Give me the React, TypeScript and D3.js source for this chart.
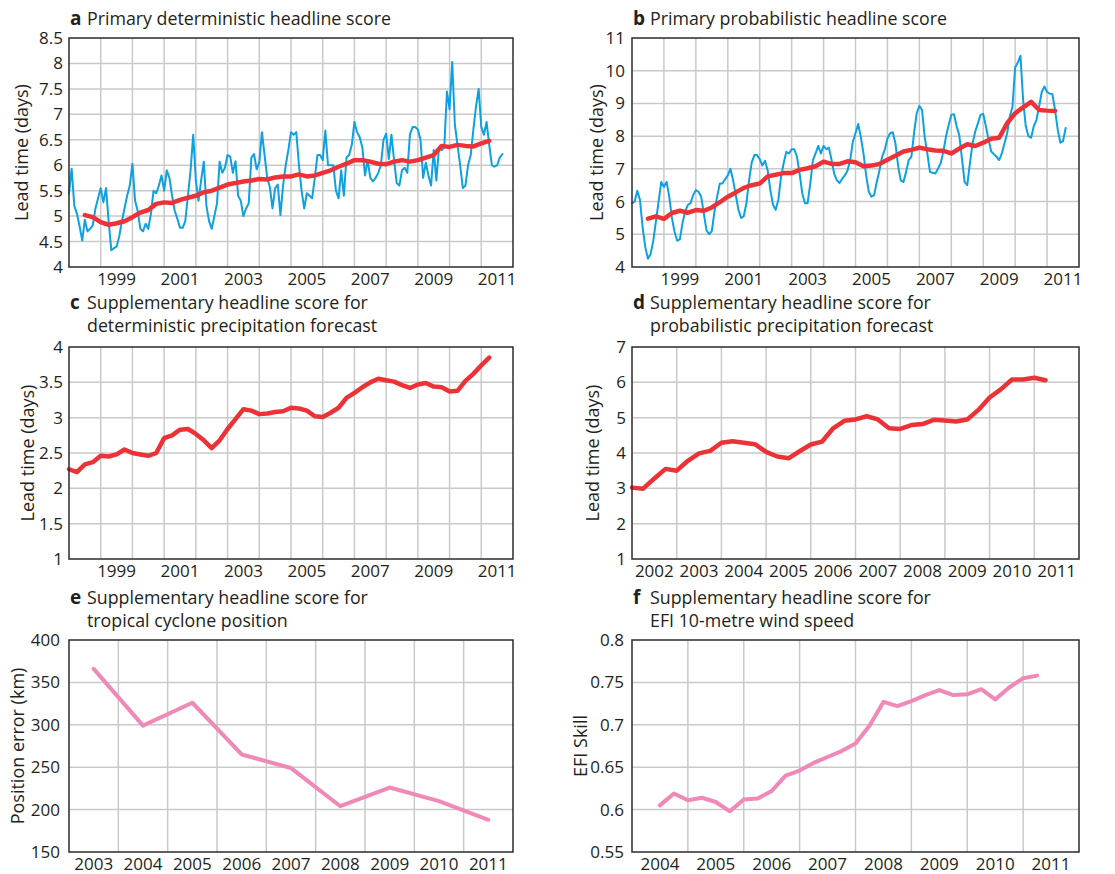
import React from "react";
import * as d3 from "d3";

const FONT = "'Open Sans', sans-serif";
const INK = "#231f20";
const GRID = "#c9c9c9";
const BLUE = "#0ea1e2";
const RED = "#ec3237";
const PINK = "#f088b8";

// a: primary deterministic score, monthly from Jan 1998, plus 12-month mean (quarterly from mid 1998)
const detStart = 1998;
const detMonthly = [
  5.45, 5.93, 5.2, 5.05, 4.8, 4.52, 4.93, 4.7, 4.75, 4.82,
  5.15, 5.35, 5.55, 5.27, 5.55, 4.9, 4.33, 4.37, 4.4, 4.6,
  4.9, 5.15, 5.4, 5.6, 6.03, 5.3, 5.1, 4.75, 4.7, 4.85,
  4.75, 5.05, 5.5, 5.45, 5.6, 5.8, 5.5, 5.9, 5.75, 5.4,
  5.1, 4.95, 4.77, 4.77, 4.9, 5.4, 5.9, 6.6, 5.7, 5.3,
  5.7, 6.07, 5.2, 4.9, 4.75, 5.0, 5.25, 6.07, 5.85, 5.95,
  6.2, 6.17, 5.85, 6.08, 5.4, 5.3, 5.0, 5.15, 5.25, 6.15,
  6.22, 5.92, 6.05, 6.65, 6.2, 5.75, 5.57, 5.15, 5.55, 5.62,
  5.02, 5.6, 6.0, 6.3, 6.65, 6.6, 6.65, 6.0, 5.5, 5.15,
  5.45, 5.4, 5.35, 5.75, 6.2, 6.2, 6.1, 6.68, 6.0, 6.0,
  6.0, 5.5, 5.35, 5.9, 5.4, 6.15, 6.2, 6.4, 6.85, 6.65,
  6.55, 6.35, 5.8, 6.1, 5.75, 5.68, 5.75, 5.85, 6.0, 6.5,
  6.62, 6.12, 6.6, 6.1, 5.65, 5.6, 5.9, 5.95, 5.85, 6.6,
  6.75, 6.75, 6.7, 6.5, 5.75, 6.05, 5.8, 5.6, 6.3, 5.7,
  6.35, 6.3, 6.35, 7.45, 7.1, 8.03, 6.8, 6.4, 6.0, 5.55,
  5.6, 6.0, 6.2, 6.7, 7.15, 7.5, 6.75, 6.6, 6.85, 6.4,
  6.0, 5.97, 6.0, 6.15, 6.22,
];
const detMeanStart = 1998.5;
const detMean = [
  5.02, 4.98, 4.88, 4.83, 4.86, 4.9, 4.98, 5.07, 5.12, 5.24,
  5.27, 5.26, 5.32, 5.36, 5.4, 5.47, 5.5, 5.56, 5.62, 5.65,
  5.68, 5.7, 5.73, 5.72, 5.76, 5.78, 5.78, 5.82, 5.78, 5.8,
  5.85, 5.9, 5.97, 6.03, 6.1, 6.1, 6.07, 6.03, 6.02, 6.07,
  6.1, 6.07, 6.1, 6.15, 6.2, 6.38, 6.36, 6.4, 6.38, 6.37,
  6.43, 6.48,
];

// b: primary probabilistic score
const probStart = 1998;
const probMonthly = [
  5.95, 6.0, 6.33, 6.05, 5.2, 4.6, 4.25, 4.4, 4.8, 5.4,
  6.0, 6.6, 6.45, 6.6, 6.15, 5.5, 5.07, 4.8, 4.85, 5.35,
  5.7, 5.9, 5.95, 6.2, 6.35, 6.3, 6.15, 5.63, 5.12, 5.0,
  5.1, 5.7, 6.15, 6.55, 6.55, 6.68, 6.8, 7.0, 6.65, 6.2,
  5.75, 5.5, 5.55, 5.95, 6.65, 7.2, 7.42, 7.42, 7.3, 7.1,
  7.25, 6.95, 6.35, 5.9, 5.75, 6.05, 6.75, 7.17, 7.52, 7.47,
  7.6, 7.6, 7.37, 6.85, 6.25, 5.95, 5.95, 6.55, 7.27, 7.47,
  7.7, 7.47, 7.7, 7.6, 7.65, 7.27, 6.85, 6.65, 6.57, 6.7,
  6.8, 6.95, 7.27, 7.83, 8.09, 8.37, 7.98, 7.47, 6.8, 6.3,
  6.15, 6.2, 6.6, 6.95, 7.37, 7.58, 7.93, 8.09, 8.12, 7.78,
  7.1, 6.65, 6.6, 6.9, 7.27, 7.37, 8.09, 8.7, 8.93, 8.8,
  7.98, 7.47, 6.9, 6.88, 6.86, 7.0, 7.17, 7.52, 7.98, 8.34,
  8.65, 8.67, 8.3, 8.03, 7.32, 6.6, 6.5, 7.17, 7.78, 8.14,
  8.39, 8.65, 8.68, 8.3, 7.9, 7.53, 7.45, 7.37, 7.27, 7.47,
  7.78, 8.09, 8.6, 8.9, 10.1, 10.25, 10.45, 9.1, 8.3, 8.0,
  7.95, 8.3, 8.5, 8.9, 9.35, 9.52, 9.35, 9.3, 9.28, 8.8,
  8.2, 7.8, 7.85, 8.25,
];
const probMeanStart = 1998.5;
const probMean = [
  5.48, 5.55, 5.47, 5.65, 5.72, 5.66, 5.74, 5.72, 5.82, 5.98,
  6.15, 6.28, 6.42, 6.5, 6.55, 6.77, 6.82, 6.87, 6.87, 6.97,
  7.02, 7.08, 7.22, 7.15, 7.15, 7.23, 7.2, 7.08, 7.1, 7.15,
  7.28, 7.4, 7.53, 7.58, 7.65, 7.6, 7.56, 7.55, 7.47, 7.62,
  7.75, 7.7, 7.8, 7.92, 7.95, 8.4, 8.7, 8.88, 9.05, 8.8,
  8.78, 8.77,
];

// c: deterministic precipitation, quarterly from 1998
const precDetStart = 1998;
const precDet = [
  2.27, 2.23, 2.34, 2.37, 2.46, 2.45, 2.48, 2.55, 2.5, 2.48,
  2.46, 2.5, 2.71, 2.75, 2.83, 2.84, 2.77, 2.68, 2.57, 2.68,
  2.84, 2.98, 3.12, 3.1, 3.05, 3.06, 3.08, 3.09, 3.14, 3.13,
  3.1, 3.02, 3.01, 3.07, 3.14, 3.28, 3.35, 3.43, 3.5, 3.55,
  3.53, 3.51, 3.46, 3.42, 3.47, 3.49, 3.44, 3.43, 3.37, 3.38,
  3.52, 3.62, 3.74, 3.85,
];

// d: probabilistic precipitation, quarterly from 2002
const precProbStart = 2002;
const precProb = [
  3.02, 2.99, 3.28, 3.55, 3.5, 3.78, 3.99, 4.06, 4.29, 4.33,
  4.29, 4.25, 4.03, 3.9, 3.85, 4.05, 4.24, 4.32, 4.7, 4.91,
  4.95, 5.04, 4.95, 4.7, 4.68, 4.79, 4.82, 4.94, 4.92, 4.89,
  4.95, 5.22, 5.57, 5.8, 6.08, 6.08, 6.13, 6.06,
];

// e: tropical cyclone position error, yearly
const tcYears = [2003, 2004, 2005, 2006, 2007, 2008, 2009, 2010, 2011];
const tcError = [366, 299, 326, 265, 249, 204, 226, 210, 188];

// f: EFI skill, quarterly from mid 2004
const efiStart = 2004.5;
const efiSkill = [
  0.605, 0.619, 0.611, 0.614, 0.609, 0.598, 0.612, 0.613, 0.622, 0.64,
  0.646, 0.655, 0.662, 0.669, 0.678, 0.699, 0.727, 0.722, 0.728, 0.735,
  0.741, 0.735, 0.736, 0.742, 0.73, 0.744, 0.755, 0.758,
];

// axis ticks
const detTicks = [4, 4.5, 5, 5.5, 6, 6.5, 7, 7.5, 8, 8.5];
const probTicks = [4, 5, 6, 7, 8, 9, 10, 11];
const precDetTicks = [1, 1.5, 2, 2.5, 3, 3.5, 4];
const precProbTicks = [1, 2, 3, 4, 5, 6, 7];
const tcTicks = [150, 200, 250, 300, 350, 400];
const efiTicks = [0.55, 0.6, 0.65, 0.7, 0.75, 0.8];
const oddYears = [1999, 2001, 2003, 2005, 2007, 2009, 2011];
const precProbYears = [2002, 2003, 2004, 2005, 2006, 2007, 2008, 2009, 2010, 2011];
const efiYears = [2004, 2005, 2006, 2007, 2008, 2009, 2010, 2011];

type Pt = [number, number];
type Series = { pts: Pt[]; color: string; width: number };

const monthly = (start: number, vals: number[]): Pt[] => vals.map((v, i) => [start + i / 12, v]);
const quarterly = (start: number, vals: number[]): Pt[] => vals.map((v, i) => [start + i / 4, v]);

interface PanelProps {
  box: [number, number, number, number]; // x0, y0, x1, y1
  xDomain: [number, number];
  yTicks: number[];
  years: number[];
  letter: string;
  title: string[];
  titleY: number;
  yTitle: string;
  yTitleX: number;
  tickGap: number;
  series: Series[];
}

const Panel: React.FC<PanelProps> = ({ box, xDomain, yTicks, years, letter, title, titleY, yTitle, yTitleX, tickGap, series }) => {
  const [x0, y0, x1, y1] = box;
  const x = d3.scaleLinear().domain(xDomain).range([x0, x1]);
  const y = d3.scaleLinear().domain([yTicks[0], yTicks[yTicks.length - 1]]).range([y1, y0]);
  const line = d3
    .line<Pt>()
    .x((d) => x(d[0]))
    .y((d) => y(d[1]));
  const xGrid = d3.range(xDomain[0] + 1, xDomain[1]);
  const yGrid = yTicks.slice(1, -1);

  return (
    <g fontFamily={FONT} fill={INK}>
      <text x={x0 + 1} y={titleY} fontSize={19} fontWeight={700}>
        {letter}
      </text>
      {title.map((t, i) => (
        <text key={i} x={x0 + 18} y={titleY + i * 23} fontSize={17.8}>
          {t}
        </text>
      ))}
      {xGrid.map((g) => (
        <line key={"x" + g} x1={x(g)} x2={x(g)} y1={y0} y2={y1} stroke={GRID} strokeWidth={1.5} />
      ))}
      {yGrid.map((g) => (
        <line key={"y" + g} x1={x0} x2={x1} y1={y(g)} y2={y(g)} stroke={GRID} strokeWidth={1.5} />
      ))}
      {series.map((s, i) => (
        <path
          key={i}
          d={line(s.pts) ?? ""}
          fill="none"
          stroke={s.color}
          strokeWidth={s.width}
          strokeLinejoin="round"
          strokeLinecap="round"
        />
      ))}
      <rect x={x0} y={y0} width={x1 - x0} height={y1 - y0} fill="none" stroke="#2b2b2b" strokeWidth={1.5} />
      {yTicks.map((t) => (
        <text key={"t" + t} x={x0 - tickGap} y={y(t)} dy="0.35em" textAnchor="end" fontSize={17}>
          {String(t)}
        </text>
      ))}
      {years.map((yr) => (
        <text key={"yr" + yr} x={x(yr + 0.5)} y={y1 + 18} textAnchor="middle" fontSize={17}>
          {yr}
        </text>
      ))}
      <text
        transform={`translate(${yTitleX},${(y0 + y1) / 2}) rotate(-90)`}
        dy="0.35em"
        textAnchor="middle"
        fontSize={18}
      >
        {yTitle}
      </text>
    </g>
  );
};

export default function App() {
  return (
    <svg width={1115} height={874} style={{ position: "absolute", left: 0, top: 0, background: "#fff" }}>
      <Panel
        box={[69, 38, 513, 267]}
        xDomain={[1998, 2012]}
        yTicks={detTicks}
        years={oddYears}
        letter="a"
        title={["Primary deterministic headline score"]}
        titleY={25}
        yTitle="Lead time (days)"
        yTitleX={22}
        tickGap={6}
        series={[
          { pts: monthly(detStart, detMonthly), color: BLUE, width: 2 },
          { pts: quarterly(detMeanStart, detMean), color: RED, width: 4.5 },
        ]}
      />
      <Panel
        box={[632, 38, 1079, 267]}
        xDomain={[1998, 2012]}
        yTicks={probTicks}
        years={oddYears}
        letter="b"
        title={["Primary probabilistic headline score"]}
        titleY={25}
        yTitle="Lead time (days)"
        yTitleX={597}
        tickGap={7}
        series={[
          { pts: monthly(probStart, probMonthly), color: BLUE, width: 2 },
          { pts: quarterly(probMeanStart, probMean), color: RED, width: 4.5 },
        ]}
      />
      <Panel
        box={[69, 347, 513, 559]}
        xDomain={[1998, 2012]}
        yTicks={precDetTicks}
        years={oddYears}
        letter="c"
        title={["Supplementary headline score for", "deterministic precipitation forecast"]}
        titleY={309}
        yTitle="Lead time (days)"
        yTitleX={28}
        tickGap={6}
        series={[{ pts: quarterly(precDetStart, precDet), color: RED, width: 4.5 }]}
      />
      <Panel
        box={[632, 347, 1079, 559]}
        xDomain={[2002, 2012]}
        yTicks={precProbTicks}
        years={precProbYears}
        letter="d"
        title={["Supplementary headline score for", "probabilistic precipitation forecast"]}
        titleY={309}
        yTitle="Lead time (days)"
        yTitleX={593}
        tickGap={6}
        series={[{ pts: quarterly(precProbStart, precProb), color: RED, width: 4.5 }]}
      />
      <Panel
        box={[69, 640, 513, 852]}
        xDomain={[2003, 2012]}
        yTicks={tcTicks}
        years={tcYears}
        letter="e"
        title={["Supplementary headline score for", "tropical cyclone position"]}
        titleY={604}
        yTitle="Position error (km)"
        yTitleX={18}
        tickGap={9}
        series={[{ pts: tcYears.map((yr, i) => [yr + 0.5, tcError[i]] as Pt), color: PINK, width: 4 }]}
      />
      <Panel
        box={[632, 640, 1079, 852]}
        xDomain={[2004, 2012]}
        yTicks={efiTicks}
        years={efiYears}
        letter="f"
        title={["Supplementary headline score for", "EFI 10-metre wind speed"]}
        titleY={604}
        yTitle="EFI Skill"
        yTitleX={581}
        tickGap={8}
        series={[{ pts: quarterly(efiStart, efiSkill), color: PINK, width: 4 }]}
      />
    </svg>
  );
}
